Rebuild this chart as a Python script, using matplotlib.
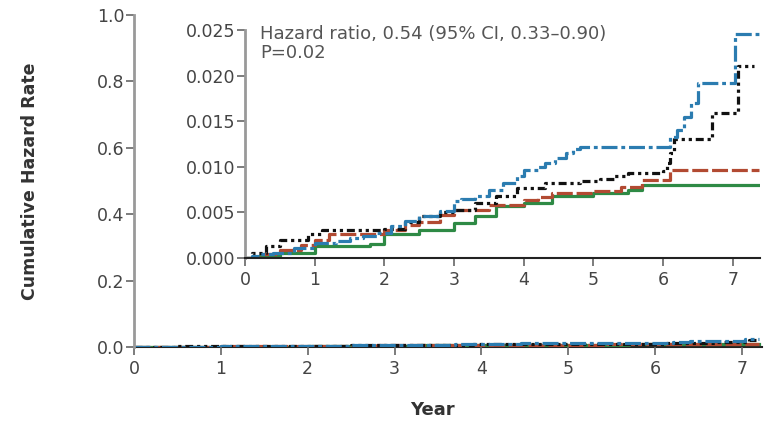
import matplotlib
matplotlib.use('Agg')
import matplotlib.pyplot as plt

# step data (year, cumulative hazard)
blue_t = [0, 0.1, 0.2, 0.4, 0.7, 1.0, 1.3, 1.5, 1.7, 1.9, 2.1, 2.3, 2.5, 2.8, 3.0, 3.1, 3.3, 3.5, 3.7, 3.9, 4.0, 4.2, 4.3, 4.45, 4.6, 4.7, 4.8, 6.1, 6.2, 6.3, 6.4, 6.5, 7.03, 7.37]
blue_y = [0, 0.0002, 0.0004, 0.0006, 0.0011, 0.0016, 0.0019, 0.0022, 0.0024, 0.0027, 0.0035, 0.0041, 0.0046, 0.0052, 0.0062, 0.0065, 0.0068, 0.0075, 0.0082, 0.0090, 0.0097, 0.0100, 0.0104, 0.0110, 0.0115, 0.0119, 0.0122, 0.0133, 0.0140, 0.0155, 0.0170, 0.0192, 0.0246, 0.0246]

black_t = [0, 0.1, 0.3, 0.5, 0.9, 1.1, 2.0, 2.3, 2.5, 2.8, 3.0, 3.3, 3.6, 3.9, 4.3, 4.8, 5.1, 5.3, 5.5, 6.0, 6.05, 6.1, 6.15, 6.7, 7.08, 7.3]
black_y = [0, 0.0006, 0.0013, 0.0020, 0.0026, 0.0031, 0.0032, 0.0040, 0.0046, 0.0050, 0.0053, 0.0060, 0.0068, 0.0077, 0.0082, 0.0084, 0.0087, 0.0090, 0.0093, 0.0095, 0.0104, 0.0115, 0.0130, 0.0159, 0.0210, 0.0210]

red_t = [0, 0.2, 0.5, 0.8, 1.0, 1.2, 2.0, 2.3, 2.5, 2.8, 3.0, 3.5, 4.0, 4.2, 4.4, 5.0, 5.4, 5.7, 6.1, 7.37]
red_y = [0, 0.0004, 0.0009, 0.0014, 0.0020, 0.0026, 0.0031, 0.0036, 0.0040, 0.0047, 0.0053, 0.0058, 0.0064, 0.0067, 0.0071, 0.0073, 0.0078, 0.0086, 0.0097, 0.0097]

green_t = [0, 0.2, 0.5, 1.0, 1.8, 2.0, 2.5, 3.0, 3.3, 3.6, 4.0, 4.4, 5.0, 5.5, 5.7, 7.37]
green_y = [0, 0.0002, 0.0005, 0.0013, 0.0015, 0.0026, 0.0031, 0.0038, 0.0046, 0.0057, 0.0060, 0.0068, 0.0071, 0.0075, 0.0080, 0.0080]

main_yticks = [0.0, 0.2, 0.4, 0.6, 0.8, 1.0]
inset_yticks = [0.000, 0.005, 0.010, 0.015, 0.020, 0.025]
years = [0, 1, 2, 3, 4, 5, 6, 7]

series = [
    (green_t, green_y, '#2e8a45', '-'),
    (red_t, red_y, '#b24a32', (0, (5, 1.2))),
    (black_t, black_y, '#111111', (0, (2.5, 1.2, 1, 1.2, 1, 1.2))),
    (blue_t, blue_y, '#2b7cb0', (0, (5, 1.2, 1.2, 1.2))),
]

TXT = '#444444'
plt.rcParams['font.family'] = 'DejaVu Sans'

fig = plt.figure(figsize=(7.7, 4.33), dpi=100)

def style(ax, left_color):
    for s in ['top', 'right']:
        ax.spines[s].set_visible(False)
    ax.spines['left'].set_color(left_color)
    ax.spines['left'].set_linewidth(2)
    ax.spines['bottom'].set_color('#222222')
    ax.spines['bottom'].set_linewidth(1.5)
    ax.tick_params(direction='out', length=6, width=1.2, colors='#666666',
                   labelcolor=TXT, labelsize=12.5)

# main axes
ax = fig.add_axes([134/770, 1 - 347/433, 628/770, 332/433])
for t, y, c, ls in series:
    tt = [v for v in t if v <= 7.2] + [7.2]
    yy = y[:len(tt) - 1] + [y[len(tt) - 2]]
    ax.step(tt, yy, where='post', color=c, lw=2.3, linestyle=ls)
ax.set_xlim(0, 7.23)
ax.set_ylim(0, 1.0)
ax.set_xticks(years)
ax.set_yticks(main_yticks)
ax.set_yticklabels([f'{v:.1f}' for v in main_yticks])
style(ax, '#999999')
ax.tick_params(axis='y', pad=1)
ax.spines['bottom'].set_zorder(0)

# inset
ins = fig.add_axes([245/770, 1 - 258/433, 515/770, 228/433])
ins.patch.set_alpha(0)
for t, y, c, ls in series:
    ins.step(t, y, where='post', color=c, lw=2.3, linestyle=ls)
ins.set_xlim(0, 7.39)
ins.set_ylim(0, 0.025)
ins.set_xticks(years)
ins.set_yticks(inset_yticks)
ins.set_yticklabels([f'{v:.3f}' for v in inset_yticks])
style(ins, '#999999')
ins.tick_params(axis='y', pad=1)
ins.text(0.03, 1.02, 'Hazard ratio, 0.54 (95% CI, 0.33\u20130.90)\nP=0.02',
         transform=ins.transAxes, ha='left', va='top', fontsize=13,
         color='#555555', linespacing=1.05)

fig.text(30/770, 1 - 181/433, 'Cumulative Hazard Rate', rotation=90,
         ha='center', va='center', fontsize=12.5, fontweight='bold', color='#333333')
fig.text(432/770, 1 - 410/433, 'Year', ha='center', va='center',
         fontsize=13, fontweight='bold', color='#333333')

fig.savefig('out.png', dpi=100)
